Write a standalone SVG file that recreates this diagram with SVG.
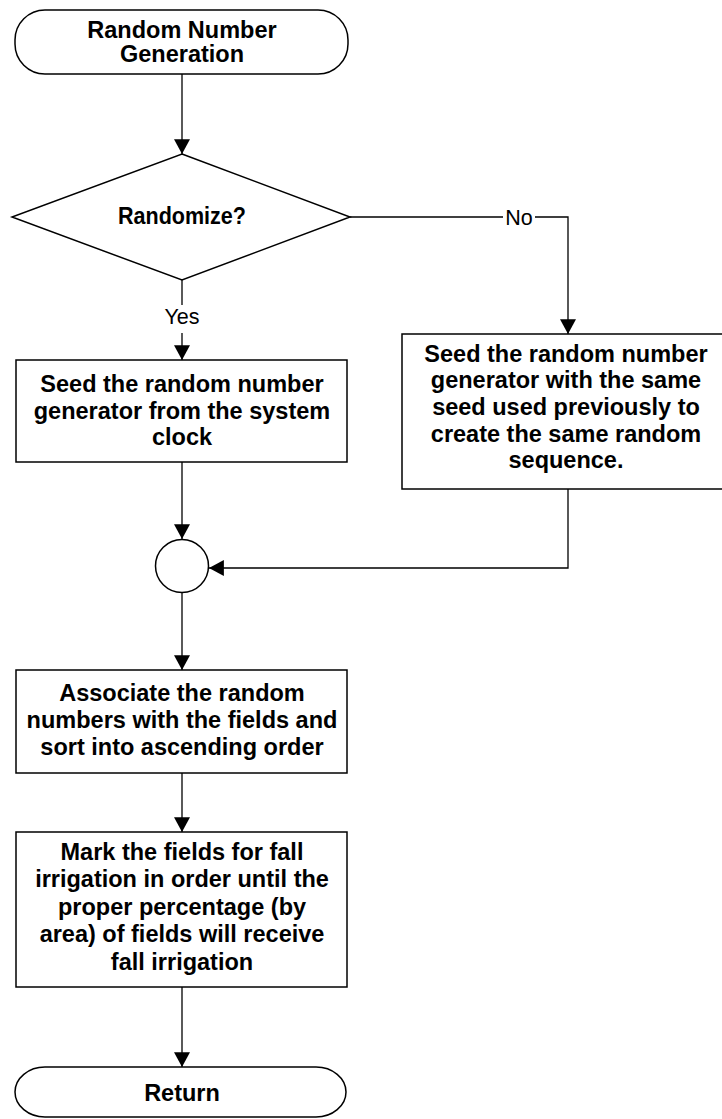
<svg xmlns="http://www.w3.org/2000/svg" width="722" height="1119" viewBox="0 0 722 1119">
<style>
.shape{fill:#fff;stroke:#000;stroke-width:1.5}
.t{font-family:"Liberation Sans",Arial,sans-serif;font-weight:bold;font-size:23.5px;text-anchor:middle;fill:#000}
.lbl{font-family:"Liberation Sans",Arial,sans-serif;font-size:21.5px;text-anchor:middle;fill:#000}
.c{fill:none;stroke:#000;stroke-width:1.3}
</style>
<defs>
<marker id="arr" markerUnits="userSpaceOnUse" markerWidth="16" markerHeight="16" viewBox="0 0 14 14" refX="13" refY="7" orient="auto">
<path d="M0,0 L13,7 L0,14 Z" fill="#000"/>
</marker>
</defs>
<rect width="722" height="1119" fill="#fff"/>
<g id="connectors">
<line class="c" x1="182" y1="74" x2="182" y2="154" marker-end="url(#arr)"/>
<line class="c" x1="182" y1="280" x2="182" y2="305"/>
<line class="c" x1="182" y1="333" x2="182" y2="360" marker-end="url(#arr)"/>
<line class="c" x1="350" y1="217" x2="503" y2="217"/>
<polyline class="c" points="535,217 568,217 568,334" marker-end="url(#arr)"/>
<line class="c" x1="182" y1="462" x2="182" y2="539" marker-end="url(#arr)"/>
<polyline class="c" points="568,489 568,568 209,568" marker-end="url(#arr)"/>
<line class="c" x1="182" y1="593" x2="182" y2="670" marker-end="url(#arr)"/>
<line class="c" x1="182" y1="773" x2="182" y2="832" marker-end="url(#arr)"/>
<line class="c" x1="182" y1="987" x2="182" y2="1067" marker-end="url(#arr)"/>
<text class="lbl" x="182" y="324">Yes</text>
<text class="lbl" x="519" y="225">No</text>
</g>
<g id="start">
<rect class="shape" x="15" y="10" width="333" height="64" rx="30" ry="30"/>
<text class="t" x="182" y="38">Random Number</text>
<text class="t" x="182" y="62">Generation</text>
</g>
<g id="decision">
<polygon class="shape" points="182,154 350,217 182,280 12,217"/>
<text class="t" x="182" y="224" textLength="128" lengthAdjust="spacingAndGlyphs">Randomize?</text>
</g>
<g id="seed-clock">
<rect class="shape" x="16" y="360" width="331" height="102"/>
<text class="t" x="182" y="392">Seed the random number</text>
<text class="t" x="182" y="419">generator from the system</text>
<text class="t" x="182" y="445">clock</text>
</g>
<g id="seed-same">
<rect class="shape" x="402" y="334" width="334" height="155"/>
<text class="t" x="566" y="362">Seed the random number</text>
<text class="t" x="566" y="388">generator with the same</text>
<text class="t" x="566" y="415">seed used previously to</text>
<text class="t" x="566" y="442">create the same random</text>
<text class="t" x="566" y="468">sequence.</text>
</g>
<g id="join">
<circle class="shape" cx="182" cy="566" r="26.5"/>
</g>
<g id="associate">
<rect class="shape" x="16" y="670" width="331" height="103"/>
<text class="t" x="182" y="701">Associate the random</text>
<text class="t" x="182" y="728">numbers with the fields and</text>
<text class="t" x="182" y="755">sort into ascending order</text>
</g>
<g id="mark">
<rect class="shape" x="16" y="832" width="331" height="155"/>
<text class="t" x="182" y="860">Mark the fields for fall</text>
<text class="t" x="182" y="887">irrigation in order until the</text>
<text class="t" x="182" y="915">proper percentage (by</text>
<text class="t" x="182" y="942">area) of fields will receive</text>
<text class="t" x="182" y="970">fall irrigation</text>
</g>
<g id="return">
<rect class="shape" x="15" y="1067" width="331" height="50" rx="30" ry="25"/>
<text class="t" x="182" y="1101">Return</text>
</g>
</svg>
